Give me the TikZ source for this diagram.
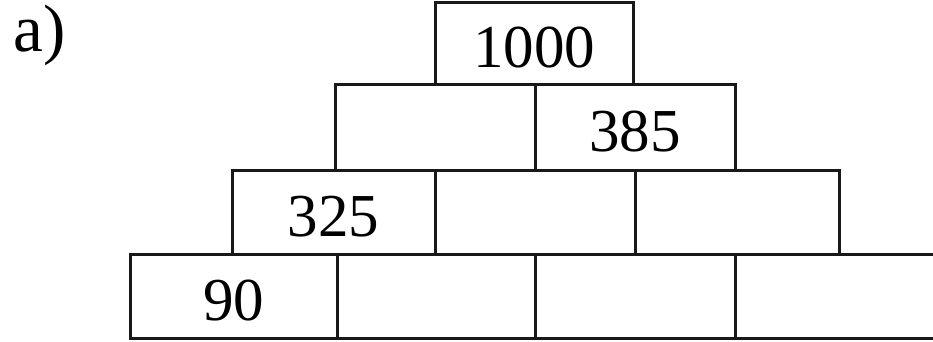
\documentclass[tikz,border=0pt]{standalone}
\usepackage{fontspec}
\setmainfont{Liberation Serif}
\usepackage{tikz}
\usetikzlibrary{positioning}
\tikzset{
  brick/.style={rectangle, draw=black!90, line width=3pt, minimum width=200pt, minimum height=84pt, outer sep=0pt, inner sep=0pt, text height=48pt, text depth=0pt, font=\fontsize{61pt}{61pt}\selectfont},
}
\begin{document}
\begin{tikzpicture}[x=1pt, y=-1pt, node distance=0pt]
\clip (0,0) rectangle (933,342);
% bottom row
\node[brick, minimum width=207pt] (b41) at (233.5,296) {90};
\node[brick, minimum width=198pt, right=of b41] (b42) {};
\node[brick, right=of b42] (b43) {};
\node[brick, minimum width=220pt, right=of b43] (b44) {};
% third row
\node[brick, minimum width=203pt] (b31) at (333.5,212) {325};
\node[brick, right=of b31] (b32) {};
\node[brick, minimum width=204pt, right=of b32] (b33) {};
% second row
\node[brick, minimum height=85pt] (b21) at (435,127.5) {};
\node[brick, minimum height=85pt, right=of b21] (b22) {385};
% top
\node[brick, minimum width=198pt, minimum height=82pt] (b11) at (534,44) {1000};
\node[anchor=base west, font=\fontsize{67pt}{67pt}\selectfont] (lbl) at (10,52) {a)};
\end{tikzpicture}
\end{document}
